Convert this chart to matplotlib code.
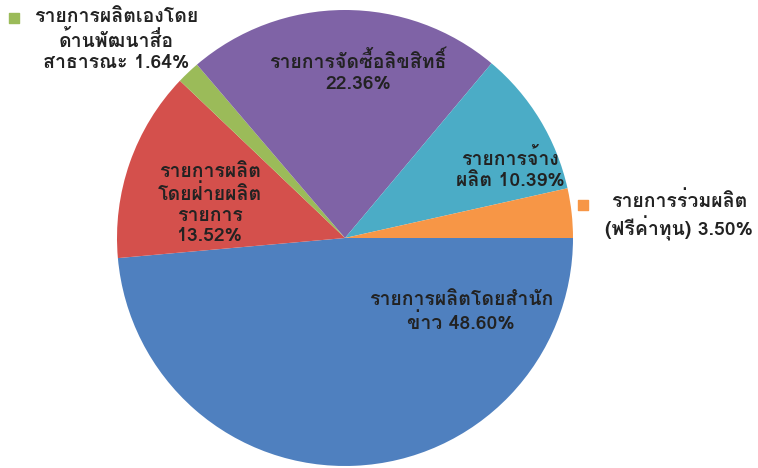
import matplotlib
matplotlib.use('Agg')
import matplotlib.pyplot as plt
from matplotlib import font_manager
from matplotlib.ft2font import FT2Font

# find an installed font that has Thai glyphs
thai_font = None
for f in font_manager.fontManager.ttflist:
    try:
        if FT2Font(f.fname).get_char_index(ord('ร')) != 0:
            thai_font = f.name
            break
    except Exception:
        pass
families = [thai_font, 'DejaVu Sans'] if thai_font else ['DejaVu Sans']

labels = ['รายการผลิตโดยสำนัก\nข่าว 48.60%',
          'รายการผลิต\nโดยฝ่ายผลิต\nรายการ\n13.52%',
          'รายการผลิตเองโดย\nด้านพัฒนาสื่อ\nสาธารณะ 1.64%',
          'รายการจัดซื้อลิขสิทธิ์\n22.36%',
          'รายการจ้าง\nผลิต 10.39%',
          'รายการร่วมผลิต\n(ฟรีค่าทุน) 3.50%']
values = [48.60, 13.52, 1.64, 22.36, 10.39, 3.50]
colors = ['#4F80BF', '#D4504C', '#9BBB59', '#7F63A6', '#4BACC6', '#F79646']

fig = plt.figure(figsize=(7.58, 4.68), dpi=100)
ax = fig.add_axes([117 / 758, 2 / 468, 456 / 758, 456 / 468])
ax.pie(values, colors=colors, startangle=0, counterclock=False, radius=1)
ax.set_xlim(-1, 1)
ax.set_ylim(-1, 1)
ax.axis('off')


def px(x, y):
    # pixel position in the picture -> data coords of the pie
    return (x - 345) / 228, (238 - y) / 228


# label positions in pixels (centre of the text block)
pos = [(461, 312), (210, 204), (116, 40), (358, 72), (510, 169), (679, 216)]
for lab, (x, y) in zip(labels, pos):
    ax.text(*px(x, y), lab, ha='center', va='center', fontsize=14,
            fontweight='bold', color='#222222', family=families,
            linespacing=1.2, clip_on=False)

# legend-like squares for the outside labels
ax.scatter(*px(14, 18), marker='s', s=50, color=colors[2], clip_on=False)
ax.scatter(*px(583, 205), marker='s', s=50, color=colors[5], clip_on=False)

fig.savefig('out.png', dpi=100)
